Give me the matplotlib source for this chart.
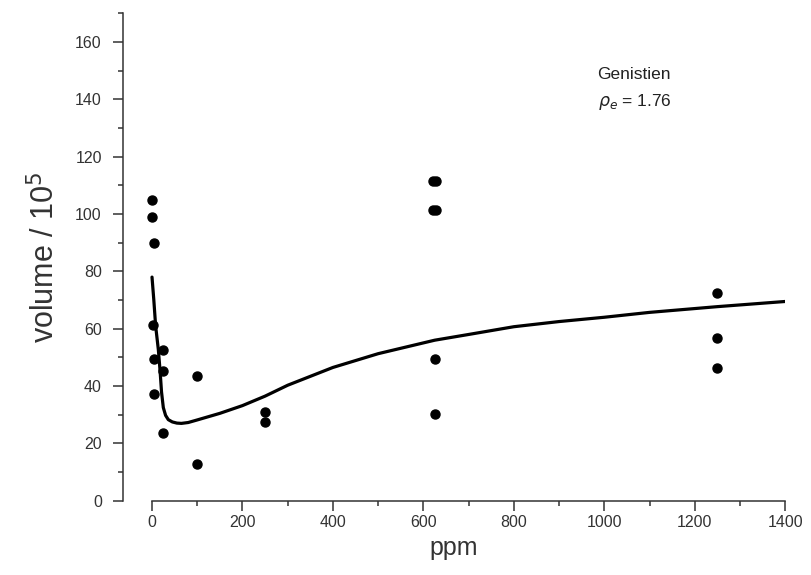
import matplotlib.pyplot as plt
import numpy as np
from matplotlib.ticker import MultipleLocator

plt.rcParams['font.family'] = ['Liberation Sans', 'DejaVu Sans']

# measured points (ppm, volume / 10^5)
ppm_pts = [1, 1, 5, 3, 5, 5, 25, 25, 25, 100, 100, 250, 250,
           622, 628, 622, 628, 625, 625, 1250, 1250, 1250]
vol_pts = [105, 99, 90, 61.4, 49.5, 37.2, 52.7, 45.1, 23.8, 43.4, 12.9, 31, 27.5,
           111.4, 111.4, 101.3, 101.3, 49.5, 30.3, 72.6, 56.9, 46.4]

# fitted curve
fit_ppm = [0, 4, 8, 14, 18, 21, 25, 30, 36, 45, 55, 65, 80, 100, 150, 200, 250,
           300, 400, 500, 625, 700, 800, 900, 1000, 1100, 1250, 1400]
fit_vol = [78, 70, 61, 52.7, 45, 38, 32.5, 29.8, 28.3, 27.5, 27.1, 27.0, 27.3, 28.2,
           30.5, 33.2, 36.5, 40.3, 46.5, 51.3, 56, 58, 60.7, 62.5, 64, 65.7, 67.7, 69.5]

fig = plt.figure(figsize=(8.12, 5.75), dpi=100)
ax = fig.add_axes([0.151, 0.129, 0.816, 0.848])

ax.plot(fit_ppm, fit_vol, color='black', lw=2.3, solid_capstyle='round')
ax.plot(ppm_pts, vol_pts, 'o', color='black', ms=6.5)

ax.set_xlim(-65, 1400)
ax.set_ylim(0, 170)
ax.spines['top'].set_visible(False)
ax.spines['right'].set_visible(False)
ax.spines['bottom'].set_bounds(0, 1400)
for s in ['left', 'bottom']:
    ax.spines[s].set_linewidth(1.1)
    ax.spines[s].set_color('#333333')

ax.set_xticks(np.arange(0, 1401, 200))
ax.set_yticks(np.arange(0, 161, 20))
ax.xaxis.set_minor_locator(MultipleLocator(100))
ax.yaxis.set_minor_locator(MultipleLocator(10))
ax.tick_params(which='major', direction='out', length=7, width=1.1, color='#333333',
               labelsize=11.5, labelcolor='#333333')
ax.tick_params(axis='y', which='major', pad=8)
ax.tick_params(which='minor', direction='out', length=3.5, width=1.1, color='#333333')

ax.set_xlabel('ppm', fontsize=18, color='#333333', labelpad=4)
ax.set_ylabel('volume / 10$^5$', fontsize=22, color='#333333', labelpad=10)

ax.text(985, 148.7, 'Genistien', fontsize=12.5, color='#222222', va='center')
ax.text(985, 139, r'$\rho_e$ = 1.76', fontsize=12.5, color='#222222', va='center')

fig.savefig('out.png', dpi=100)
